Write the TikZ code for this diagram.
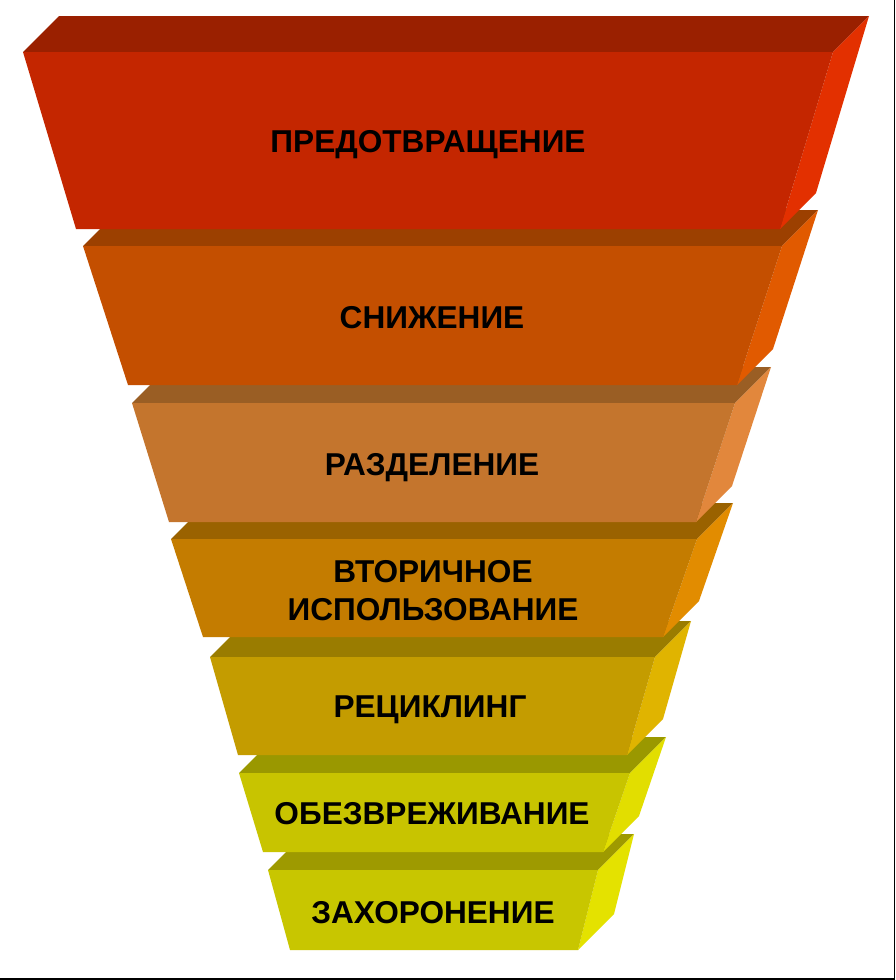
\documentclass[tikz,border=0pt]{standalone}
\usepackage{fontspec}
\setmainfont{Liberation Sans}
\begin{document}
\begin{tikzpicture}[x=1pt,y=-1pt,
  lbl/.style={font=\fontsize{31.6}{37.5}\selectfont\bfseries, text=black, align=center, inner sep=0pt, anchor=base},
  frame/.style={draw=black, line width=1.8pt}]
\useasboundingbox (0,0) rectangle (896,980);
\fill[white] (0,0) rectangle (896,980);
% layer: #1 left-top x, #2 right-top x, #3 left-bottom x, #4 right-bottom x, #5 top y, #6 bottom y, #7 front, #8 top, #9 side
\newcommand\funnellayer[9]{%
  \fill[#8] (#1,#5) -- (#2,#5) -- ({#2+36},{#5-36}) -- ({#1+36},{#5-36}) -- cycle;
  \fill[#9] (#2,#5) -- ({#2+36},{#5-36}) -- ({#4+36},{#6-36}) -- (#4,#6) -- cycle;
  \fill[#7] (#1,#5) -- (#2,#5) -- (#4,#6) -- (#3,#6) -- cycle;
}
\definecolor{fA}{HTML}{C42600}\definecolor{tA}{HTML}{9A2000}\definecolor{sA}{HTML}{E33000}
\definecolor{fB}{HTML}{C44F00}\definecolor{tB}{HTML}{9C4000}\definecolor{sB}{HTML}{E15A00}
\definecolor{fC}{HTML}{C4752D}\definecolor{tC}{HTML}{9A5E24}\definecolor{sC}{HTML}{E2873C}
\definecolor{fD}{HTML}{C47C00}\definecolor{tD}{HTML}{9A6200}\definecolor{sD}{HTML}{E28C00}
\definecolor{fE}{HTML}{C49C00}\definecolor{tE}{HTML}{9A7C00}\definecolor{sE}{HTML}{E0B400}
\definecolor{fF}{HTML}{C8C400}\definecolor{tF}{HTML}{9A9800}\definecolor{sF}{HTML}{E2DE00}
\definecolor{fG}{HTML}{C8C600}\definecolor{tG}{HTML}{9E9A00}\definecolor{sG}{HTML}{E4E200}
\funnellayer{268}{598}{290}{578}{870}{950}{fG}{tG}{sG}
\funnellayer{239}{630}{263}{603}{773}{852}{fF}{tF}{sF}
\funnellayer{210}{655}{238}{627}{657}{755}{fE}{tE}{sE}
\funnellayer{171}{697}{203}{663}{539}{637}{fD}{tD}{sD}
\funnellayer{132}{735}{169}{696}{403}{522}{fC}{tC}{sC}
\funnellayer{83}{782}{128}{737}{246}{385}{fB}{tB}{sB}
\funnellayer{23}{833}{76}{780}{52}{229}{fA}{tA}{sA}
\node[lbl] (l1) at (428,152) {ПРЕДОТВРАЩЕНИЕ};
\node[lbl] (l2) at (432,328) {СНИЖЕНИЕ};
\node[lbl] (l3) at (432,475) {РАЗДЕЛЕНИЕ};
\node[lbl] (l4) at (433,620) {ВТОРИЧНОЕ\\ИСПОЛЬЗОВАНИЕ};
\node[lbl] (l5) at (430,717) {РЕЦИКЛИНГ};
\node[lbl] (l6) at (432,824) {ОБЕЗВРЕЖИВАНИЕ};
\node[lbl] (l7) at (433,923) {ЗАХОРОНЕНИЕ};
\draw[frame] (0,979) -- (894.5,979) -- (894.5,0);
\end{tikzpicture}
\end{document}
